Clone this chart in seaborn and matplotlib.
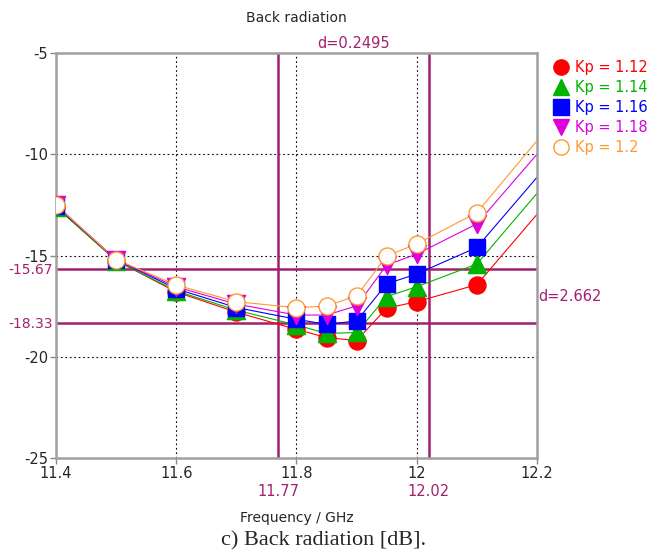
import matplotlib
matplotlib.use("Agg")
import matplotlib.pyplot as plt
import seaborn as sns
import numpy as np
from matplotlib.lines import Line2D

freq = [11.4, 11.5, 11.6, 11.7, 11.8, 11.85, 11.9, 11.95, 12.0, 12.1, 12.2]
kp_1_12 = [-12.6, -15.25, -16.8, -17.8, -18.65, -19.05, -19.2, -17.6, -17.28, -16.44, -12.97]
kp_1_14 = [-12.6, -15.25, -16.75, -17.7, -18.43, -18.85, -18.8, -17.03, -16.54, -15.42, -11.93]
kp_1_16 = [-12.55, -15.2, -16.65, -17.57, -18.15, -18.4, -18.23, -16.4, -15.91, -14.6, -11.14]
kp_1_18 = [-12.5, -15.2, -16.55, -17.4, -17.94, -17.94, -17.49, -15.47, -14.93, -13.44, -10.0]
kp_1_20 = [-12.5, -15.2, -16.46, -17.28, -17.58, -17.49, -17.0, -15.02, -14.43, -12.88, -9.33]
labels = ["Kp = 1.12", "Kp = 1.14", "Kp = 1.16", "Kp = 1.18", "Kp = 1.2"]
x_ticks = [11.4, 11.6, 11.8, 12.0, 12.2]
x_ticklabels = ["11.4", "11.6", "11.8", "12", "12.2"]
y_ticks = [-25, -20, -15, -10, -5]
marker_x = [11.77, 12.02]
marker_y = [-15.67, -18.33]
d_x = "d=0.2495"
d_y = "d=2.662"

series = [kp_1_12, kp_1_14, kp_1_16, kp_1_18, kp_1_20]
colors = ["#FF0000", "#00B400", "#0000FF", "#DD00DD", "#FF9933"]
markers = ["o", "^", "s", "v", "o"]
msizes = [150, 170, 130, 170, 150]
facecols = ["#FF0000", "#00B400", "#0000FF", "#DD00DD", "white"]
mcol = "#A3206F"
fs = 10

sns.set_theme(style="white")
plt.rcParams['font.family'] = ['DejaVu Sans']

fig = plt.figure(figsize=(6.48, 5.6), dpi=100)
ax = fig.add_axes([0.0864, 0.1821, 0.7423, 0.7233])

# grid
for gx in [11.6, 11.8, 12.0]:
    ax.axvline(gx, color="black", lw=0.8, ls=(0, (1.5, 2.5)), zorder=0)
for gy in [-10, -15, -20]:
    ax.axhline(gy, color="black", lw=0.8, ls=(0, (1.5, 2.5)), zorder=0)

for vals, c, m, s, fc in zip(series, colors, markers, msizes, facecols):
    sns.lineplot(x=freq, y=vals, color=c, lw=0.8, ax=ax, zorder=2)
    sns.scatterplot(x=freq[:-1], y=vals[:-1], marker=m, s=s, color=fc,
                    edgecolor=c, linewidth=1.0, ax=ax, zorder=3)

for v in marker_x:
    ax.axvline(v, color=mcol, lw=1.8, zorder=1)
for v in marker_y:
    ax.axhline(v, color=mcol, lw=1.8, zorder=1)

ax.set_xlim(11.4, 12.2)
ax.set_ylim(-25, -5)
ax.set_xticks(x_ticks)
ax.set_xticklabels(x_ticklabels)
ax.set_yticks(y_ticks)
ax.set_yticklabels([str(t) for t in y_ticks])
ax.tick_params(axis="both", labelsize=fs + 0.5, length=4, width=1, color="#888888",
               direction="out", left=True, bottom=True, pad=1.5)
for sp in ax.spines.values():
    sp.set_color("#A0A0A0")
    sp.set_linewidth(1.8)

trans_x = ax.get_xaxis_transform()
trans_y = ax.get_yaxis_transform()
for v in marker_x:
    ax.text(v, -0.063, f"{v:.2f}", transform=trans_x, ha="center", va="top",
            color=mcol, fontsize=fs + 0.5)
for v in marker_y:
    ax.text(-0.006, v - 0.05, f"{v:.2f}", transform=trans_y, ha="right", va="center",
            color=mcol, fontsize=fs)
ax.text((marker_x[0] + marker_x[1]) / 2, 1.004, d_x, transform=trans_x,
        ha="center", va="bottom", color=mcol, fontsize=fs + 0.5)
ax.text(1.002, (marker_y[0] + marker_y[1]) / 2, d_y, transform=trans_y,
        ha="left", va="center", color=mcol, fontsize=fs + 0.5)

ax.set_xlabel("Frequency / GHz", fontsize=fs, labelpad=22)
ax.set_ylabel("")
fig.text(0.4568, 0.968, "Back radiation", ha="center", va="center", fontsize=fs)

handles = []
for c, m, fc in zip(colors, markers, facecols):
    handles.append(Line2D([], [], ls="none", marker=m, markersize=11,
                          markerfacecolor=fc, markeredgecolor=c, markeredgewidth=1.0))
leg = fig.legend(handles, labels, loc="upper left", bbox_to_anchor=(0.85, 0.892),
                 frameon=False, fontsize=fs + 0.5, handletextpad=0.25, labelspacing=0.33,
                 handlelength=1.4, borderaxespad=0, borderpad=0)
for t, c in zip(leg.get_texts(), colors):
    t.set_color(c)

fig.text(0.5, 0.035, "c) Back radiation [dB].", ha="center", va="center",
         fontsize=16, family=["Liberation Serif", "DejaVu Serif"])

fig.savefig("out.png", dpi=100)
